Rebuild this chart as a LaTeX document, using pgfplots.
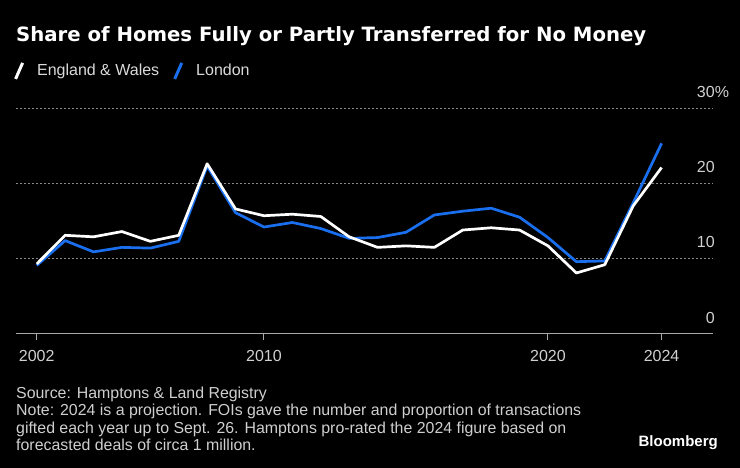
\documentclass[border=0pt]{standalone}
\usepackage{pgfplots}
\pgfplotsset{compat=1.18}
\usepackage{fontspec}
\setmainfont{Liberation Sans}
\newfontfamily\titlefont{DejaVu Sans}
\definecolor{bblue}{HTML}{1A6FEF}
\definecolor{ticktext}{HTML}{D0D0D0}
\definecolor{legtext}{HTML}{DADADA}
\definecolor{notetext}{HTML}{CFCFCF}
\definecolor{gridc}{HTML}{8A8A8A}
\definecolor{axisc}{HTML}{A8A8A8}

\pgfplotstableread{
year ew lon
2002 9.3 9.1
2003 13.1 12.4
2004 12.9 10.9
2005 13.6 11.5
2006 12.3 11.4
2007 13.1 12.3
2008 22.6 22.3
2009 16.6 16.1
2010 15.7 14.2
2011 15.9 14.8
2012 15.6 14.0
2013 12.9 12.7
2014 11.5 12.8
2015 11.7 13.5
2016 11.5 15.8
2017 13.8 16.3
2018 14.1 16.7
2019 13.8 15.5
2020 11.7 12.8
2021 8.1 9.6
2022 9.2 9.7
2023 17.0 17.4
2024 22.1 25.3
}\datatable

\begin{document}
\begin{tikzpicture}
\fill[black] (0,0) rectangle (740bp,468bp);
\begin{axis}[
  at={(16bp,134bp)}, anchor=south west,
  scale only axis, width=697bp, height=226bp,
  xmin=2001.27, xmax=2025.81, ymin=0, ymax=30,
  axis x line*=bottom, axis y line*=right,
  x axis line style={draw=axisc, line width=1bp, -},
  y axis line style={draw=none},
  xtick={2002,2010,2020,2024},
  xticklabels={2002,2010,2020,2024},
  ytick={10,20,30},
  yticklabels={10,20,30\rlap{\%}},
  extra y ticks={0},
  extra y tick labels={0},
  extra y tick style={grid=none, ytick style={draw=none}},
  tick align=outside,
  major tick length=6bp,
  xtick style={draw=axisc, line width=1bp},
  ytick style={draw=none},
  ymajorgrids,
  grid style={draw=gridc, line width=0.8bp, dash pattern=on 1.5bp off 2.5bp},
  xticklabel style={font=\fontsize{16bp}{18bp}\selectfont, text=ticktext, inner sep=0pt, anchor=north, yshift=-10bp},
  yticklabel style={font=\fontsize{16bp}{18bp}\selectfont, text=ticktext, inner sep=0pt, anchor=south east, xshift=-4bp, yshift=10.5bp},
  legend columns=-1,
  legend style={at={(-0.003,1.164)}, anchor=west, draw=none, fill=none, inner sep=0pt,
    font=\fontsize{16bp}{18bp}\selectfont, text=legtext,
    /tikz/every even column/.append style={column sep=12bp}},
  legend image code/.code={\draw[#1, line width=3bp, line cap=butt] (1.5bp,-8bp) -- (8.5bp,8bp); \path[draw=none, fill=none] (0bp,0bp) -- (21bp,0bp);},
  clip=false,
]
\addlegendimage{white}
\addlegendentry{England \& Wales}
\addlegendimage{bblue}
\addlegendentry{London}
\addplot[bblue, line width=2.7bp, line join=round, forget plot] table[x=year, y=lon] {\datatable};
\addplot[white, line width=2.7bp, line join=round, forget plot] table[x=year, y=ew] {\datatable};
\end{axis}
\node[anchor=base west, inner sep=0pt, text=white, font=\titlefont\bfseries\fontsize{19.7bp}{24bp}\selectfont] at (16bp,426bp) {Share of Homes Fully or Partly Transferred for No Money};
\begin{scope}[every node/.style={anchor=base west, inner sep=0pt, text=notetext, font=\fontsize{15.9bp}{17bp}\selectfont}]
\node at (16bp,69bp) {Source: Hamptons \& Land Registry};
\node at (16bp,52bp) {Note: 2024 is a projection. FOIs gave the number and proportion of transactions};
\node at (16bp,35bp) {gifted each year up to Sept. 26. Hamptons pro-rated the 2024 figure based on};
\node at (16bp,18bp) {forecasted deals of circa 1 million.};
\end{scope}
\node[anchor=base east, inner sep=0pt, text=white, font=\bfseries\fontsize{15bp}{18bp}\selectfont] at (718bp,22bp) {Bloomberg};
\end{tikzpicture}
\end{document}
